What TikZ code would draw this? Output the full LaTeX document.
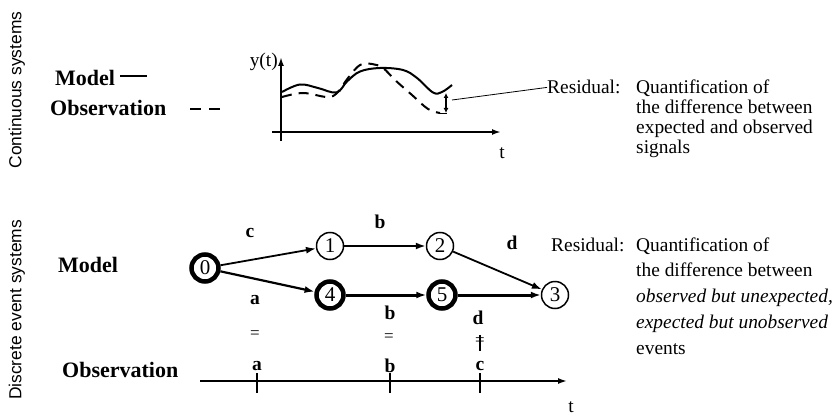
\documentclass[tikz,border=0pt]{standalone}
\usepackage{fontspec}
\setmainfont{Liberation Serif}
\setsansfont{Liberation Sans}
\usetikzlibrary{arrows.meta}
\begin{document}
\begin{tikzpicture}[x=1pt,y=-1pt,
  state/.style={circle,draw,line width=1.5pt,minimum size=27pt,inner sep=0pt,font=\fontsize{21}{22}\selectfont},
  bstate/.style={state,line width=4.5pt},
  lbl/.style={font=\bfseries\fontsize{19.5}{20}\selectfont,inner sep=0pt},
  eqs/.style={font=\fontsize{17}{18}\selectfont,inner sep=0pt},
  head/.style={font=\bfseries\fontsize{22}{24}\selectfont,inner sep=0pt,anchor=west},
  side/.style={font=\sffamily\fontsize{17.4}{18}\selectfont,rotate=90,inner sep=0pt},
  body/.style={font=\fontsize{19.4}{22}\selectfont,inner sep=0pt},
  tiparrow/.style={-{Latex[length=10pt,width=7pt]}},
  thinedge/.style={tiparrow,line width=1.8pt},
  thickedge/.style={tiparrow,line width=3pt},
  axis/.style={-{Latex[length=9pt,width=6pt]}},
  curve/.style={line width=2pt},
]
\useasboundingbox (0,0) rectangle (834,417);

% ---------- side labels ----------
\node[side] (cs) at (17,90) {Continuous systems};
\node[side] (ds) at (17,310) {Discrete event systems};

% ---------- continuous part ----------
\node[head] (model1) at (55,78) {Model};
\coordinate (ml0) at (120,76);
\coordinate (ml1) at (147,76);
\draw[line width=1.5pt] (ml0) -- (ml1);
\node[head] (obs1) at (50,108) {Observation};
\coordinate (ol0) at (190,109);
\coordinate (ol1) at (221,109);
\draw[line width=2pt,dash pattern=on 11pt off 8pt] (ol0) -- (ol1);

\coordinate (yb) at (281,141);
\coordinate (yt) at (281,57);
\coordinate (xl) at (272,132);
\coordinate (xr) at (501,132);
\draw[axis,line width=2.5pt] (yb) -- (yt);
\draw[axis,line width=2pt] (xl) -- (xr);
\node[body,anchor=east] (ylab) at (278,62) {y(t)};
\node[body] (tlab1) at (502,153) {t};

\draw[curve] plot[smooth,tension=0.6] coordinates {(282,92) (300,84.5) (318,88) (336.5,92.5) (347,81.5) (360,71.5) (380,68) (403,70) (417,78) (433,92.5) (442,92) (452,85)};
\draw[curve,dash pattern=on 10pt off 7pt] plot[smooth,tension=0.6] coordinates {(282,97) (303,93) (327,97) (337,93) (348,78) (360,65) (372,64) (383,68) (395,80) (412,95) (428,109) (440,113)};
\coordinate (ra) at (446,93);
\coordinate (rb) at (446,113);
\draw[line width=1.2pt,{Latex[length=5pt,width=5pt]}-{Latex[length=5pt,width=5pt]}] (ra) -- (rb);
\draw[line width=1.2pt] (440,113.5) -- (447,113.5);

\node[body,anchor=base west] (res1) at (547,94) {Residual:};
\coordinate (rp) at (452,100);
\draw[line width=0.8pt] (rp) -- (res1.west);
\node[body,anchor=base west] (q1a) at (636,94) {Quantification of};
\node[body,anchor=base west] (q1b) at (636,113.7) {the difference between};
\node[body,anchor=base west] (q1c) at (636,133.4) {expected and observed};
\node[body,anchor=base west] (q1d) at (636,153.1) {signals};

% ---------- discrete event part ----------
\node[head] (model2) at (58,265) {Model};
\node[head] (obs2) at (62,370) {Observation};

\node[bstate] (s0) at (205,268) {0};
\node[state]  (s1) at (330,246) {1};
\node[state]  (s2) at (440,246) {2};
\node[state]  (s3) at (555,295) {3};
\node[bstate] (s4) at (330,295) {4};
\node[bstate] (s5) at (442,295) {5};

\draw[thinedge] (s0) -- (s1);
\draw[thinedge,line width=2.2pt] (s0) -- (s4);
\draw[thinedge] (s1) -- (s2);
\draw[thinedge] (s2) -- (s3);
\draw[thickedge] (s4) -- (s5);
\draw[thickedge] (s5) -- (s3);

\node[lbl] (lc) at (250,233) {c};
\node[lbl] (lb1) at (380,222) {b};
\node[lbl] (ld1) at (512,243) {d};
\node[lbl] (la) at (255,300) {a};
\node[lbl] (lb2) at (390,313) {b};
\node[lbl] (ld2) at (478,318) {d};

\node[eqs] (e1) at (255,335) {=};
\node[eqs] (e2) at (389,338) {=};
\node[eqs] (e3) at (480,342) {=};
\draw[line width=1.3pt] (e3.north) ++(0,-3) -- ++(0,16);

\node[lbl] (oa) at (257,366) {a};
\node[lbl] (ob) at (390,366) {b};
\node[lbl] (oc) at (480,366) {c};

\coordinate (tl0) at (200,381);
\coordinate (tl1) at (567,381);
\draw[axis,line width=1.6pt] (tl0) -- (tl1);
\foreach \x in {257,390,480} {\draw[line width=1.3pt] (\x,373) -- (\x,393);}
\node[body] (tlab2) at (571,407) {t};

\node[body,anchor=base west] (res2) at (551,251) {Residual:};
\node[body,anchor=base west] (q2a) at (636,251) {Quantification of};
\node[body,anchor=base west] (q2b) at (636,276.75) {the difference between};
\node[body,anchor=base west] (q2c) at (636,302.5) {\itshape observed but unexpected,};
\node[body,anchor=base west] (q2d) at (636,328.25) {\itshape expected but unobserved};
\node[body,anchor=base west] (q2e) at (636,354) {events};
\end{tikzpicture}
\end{document}
